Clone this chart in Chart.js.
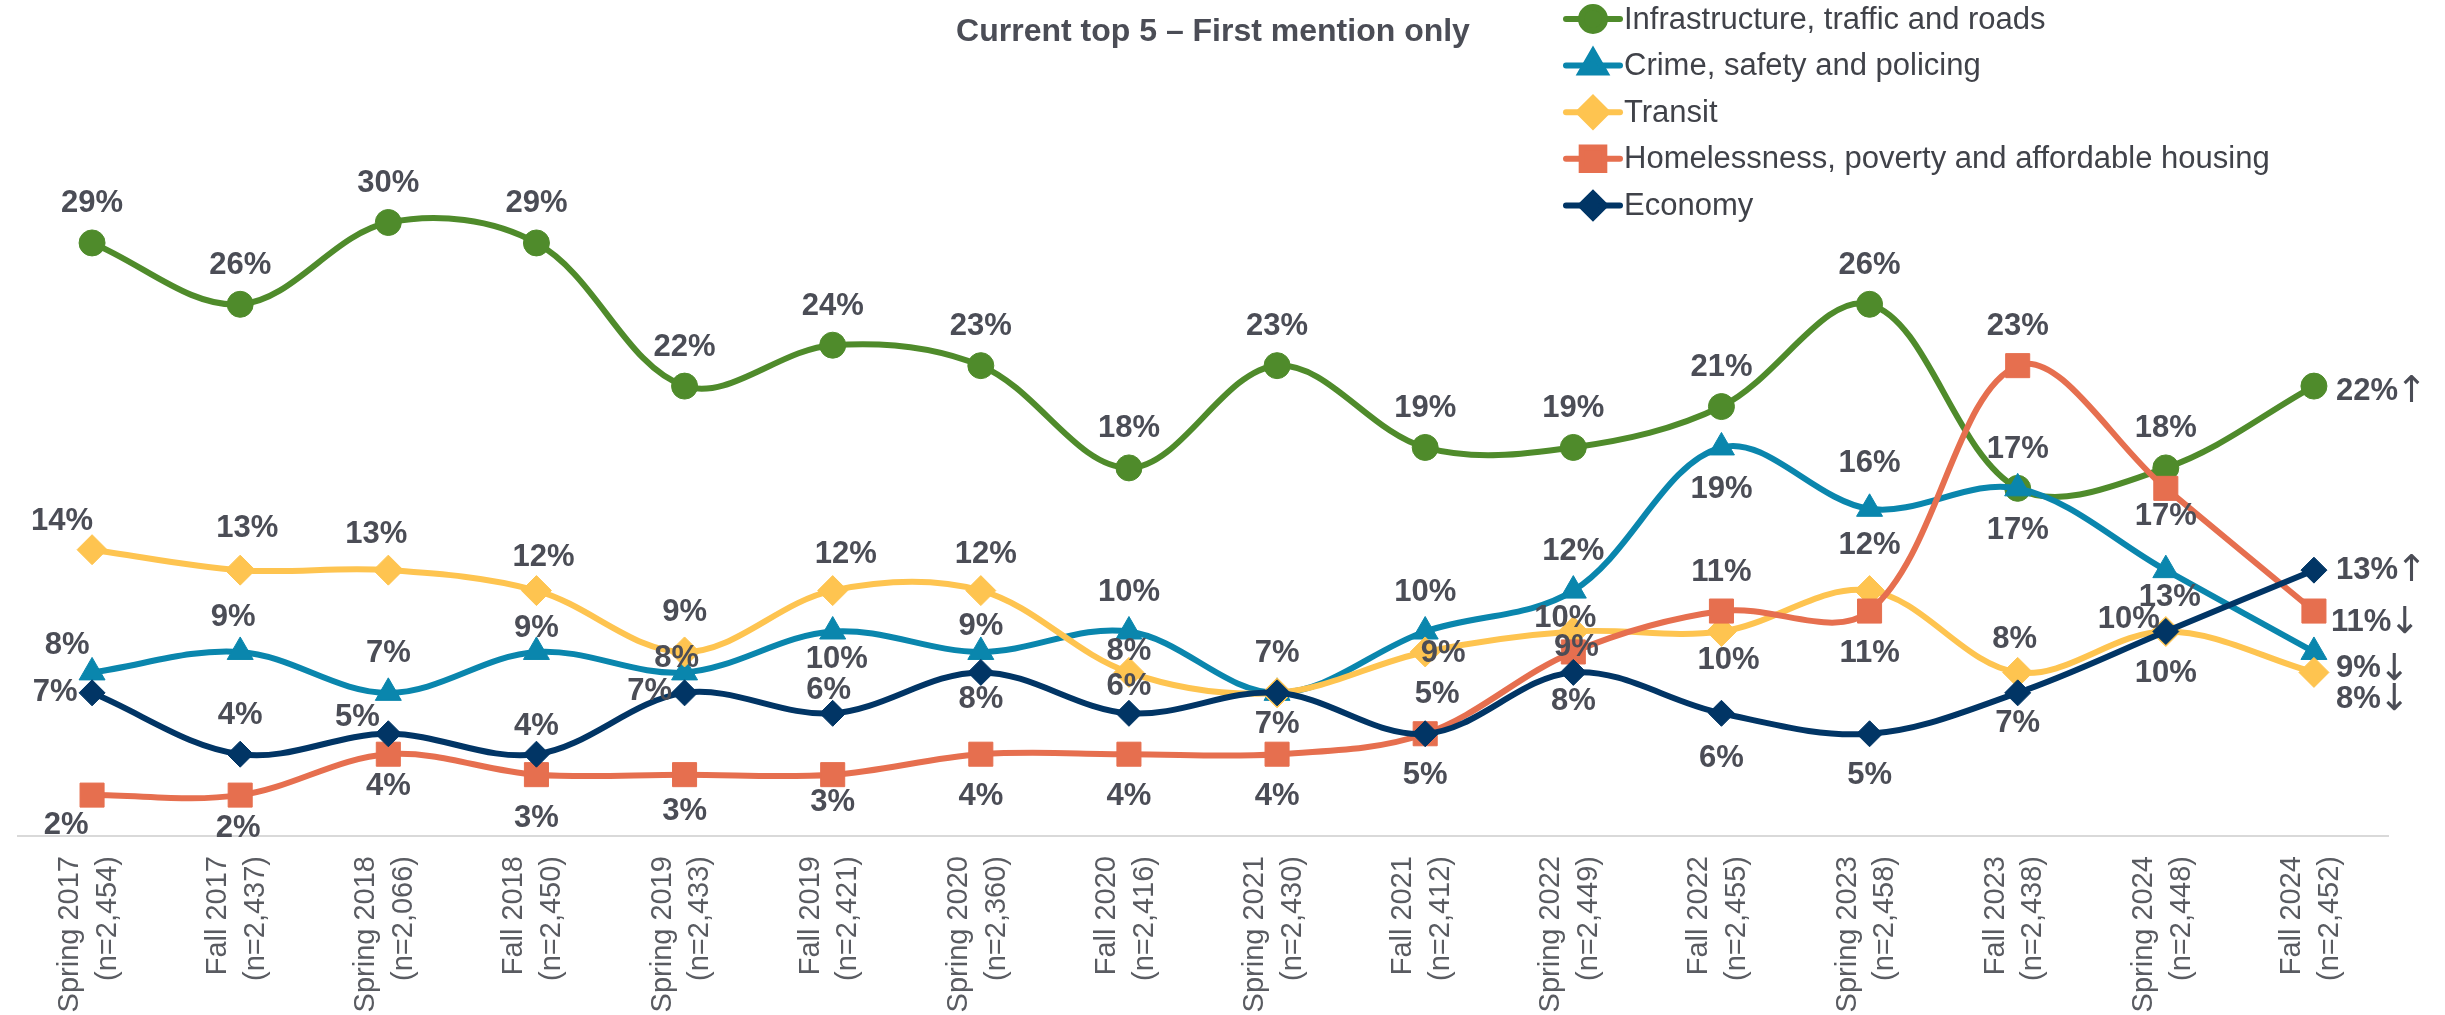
<!DOCTYPE html>
<html>
<head>
<meta charset="utf-8">
<title>Current top 5 – First mention only</title>
<script src="https://cdn.jsdelivr.net/npm/chart.js@4.4.1/dist/chart.umd.min.js"></script>
<style>
  html, body { margin: 0; padding: 0; background: #ffffff; }
  #wrap { width: 2445px; height: 1015px; }
</style>
</head>
<body>
<div id="wrap"><canvas id="issuesChart" width="2445" height="1015"></canvas></div>
<script>
// ============================
// DATA
// ============================
const waves = [
  ["Spring 2017", "(n=2,454)"], ["Fall 2017", "(n=2,437)"],
  ["Spring 2018", "(n=2,066)"], ["Fall 2018", "(n=2,450)"],
  ["Spring 2019", "(n=2,433)"], ["Fall 2019", "(n=2,421)"],
  ["Spring 2020", "(n=2,360)"], ["Fall 2020", "(n=2,416)"],
  ["Spring 2021", "(n=2,430)"], ["Fall 2021", "(n=2,412)"],
  ["Spring 2022", "(n=2,449)"], ["Fall 2022", "(n=2,455)"],
  ["Spring 2023", "(n=2,458)"], ["Fall 2023", "(n=2,438)"],
  ["Spring 2024", "(n=2,448)"], ["Fall 2024", "(n=2,452)"]
];

const infrastructure = [29, 26, 30, 29, 22, 24, 23, 18, 23, 19, 19, 21, 26, 17, 18, 22];
const crime          = [8, 9, 7, 9, 8, 10, 9, 10, 7, 10, 12, 19, 16, 17, 13, 9];
const transit        = [14, 13, 13, 12, 9, 12, 12, 8, 7, 9, 10, 10, 12, 8, 10, 8];
const homelessness   = [2, 2, 4, 3, 3, 3, 4, 4, 4, 5, 9, 11, 11, 23, 17, 11];
const economy        = [7, 4, 5, 4, 7, 6, 8, 6, 7, 5, 8, 6, 5, 7, 10, 13];

const seriesNames = [
  "Infrastructure, traffic and roads",
  "Crime, safety and policing",
  "Transit",
  "Homelessness, poverty and affordable housing",
  "Economy"
];

// change vs. previous wave, shown next to the last value
const changeArrows = ["\u2191", "\u2193", "\u2193", "\u2193", "\u2191"];

// ============================
// STYLE
// ============================
const colors = ["#4f8b2b", "#0a86ad", "#fec450", "#e66f4f", "#013565"];
const markers = ["circle", "triangle", "rectRot", "rect", "rectRot"];
const markerSizes = [13, 15, 15, 17, 13];
const textColor = "#4b4d56";
const fontFamily = "'Liberation Sans', Arial, sans-serif";

// label placement per point: a = above, b = below, l = left, r = right, c = on point, n = none
const labelSpots = [
  "aaaaaaaaaaaaaaar",
  "aaaaabaaaaababbr",
  "aaaaaaaanccbaaar",
  "bbbbbbbbbbcababr",
  "laaalabababbbbbr"
];

// small manual shifts so labels sit where the original put them
const labelNudge = {
  "0-15": [0, 5],
  "1-0": [-25, 12], "1-1": [-7, 5], "1-3": [0, 16], "1-4": [-8, 25], "1-5": [4, -14],
  "1-6": [0, 14], "1-12": [0, -6], "1-14": [4, -15], "1-15": [0, 17],
  "2-0": [-30, 11], "2-1": [7, -3], "2-2": [-12, 3], "2-3": [7, 6], "2-5": [13, 3],
  "2-6": [5, 3], "2-7": [0, 18], "2-9": [18, 2], "2-10": [-8, -13], "2-11": [7, -13],
  "2-12": [0, -6], "2-13": [-3, 6], "2-14": [-37, 27], "2-15": [0, 27],
  "3-0": [-26, -12], "3-1": [-2, -9], "3-2": [0, -10], "3-3": [0, 2], "3-4": [0, -5],
  "3-5": [0, -14], "3-10": [3, -4], "3-14": [0, -14], "3-15": [-5, 11],
  "4-0": [3, 0], "4-2": [-31, 23], "4-3": [0, 11], "4-4": [5, -1], "4-5": [-4, 16],
  "4-6": [0, -15], "4-7": [0, 12], "4-8": [0, -10], "4-9": [12, 0], "4-10": [0, -13],
  "4-11": [0, 3], "4-13": [0, -11]
};

Chart.defaults.font.family = fontFamily;

// ============================
// PLUGINS
// ============================
function drawMarker(ctx, style, radius, color, x, y) {
  ctx.save();
  ctx.fillStyle = color;
  ctx.strokeStyle = color;
  Chart.helpers.drawPoint(ctx, { pointStyle: style, radius: radius, rotation: 0, borderWidth: 1 }, x, y);
  ctx.restore();
}

const titleAndLegend = {
  id: "titleAndLegend",
  afterDraw(chart) {
    const ctx = chart.ctx;
    ctx.save();
    ctx.fillStyle = textColor;
    ctx.font = "bold 32px " + fontFamily;
    ctx.textAlign = "center";
    ctx.textBaseline = "middle";
    ctx.fillText("Current top 5 \u2013 First mention only", 1213, 32);

    ctx.font = "31px " + fontFamily;
    ctx.textAlign = "left";
    seriesNames.forEach((name, i) => {
      const y = 19 + i * 46.6;
      ctx.strokeStyle = colors[i];
      ctx.lineWidth = 6;
      ctx.lineCap = "round";
      ctx.beginPath();
      ctx.moveTo(1566, y);
      ctx.lineTo(1620, y);
      ctx.stroke();
      drawMarker(ctx, markers[i], markerSizes[i] - 1, colors[i], 1593, y);
      ctx.fillStyle = "#404249";
      ctx.fillText(name, 1624, y + 1);
    });
    ctx.restore();
  }
};

const valueLabels = {
  id: "valueLabels",
  afterDatasetsDraw(chart) {
    const ctx = chart.ctx;
    ctx.save();
    ctx.textBaseline = "middle";
    chart.data.datasets.forEach((ds, s) => {
      const meta = chart.getDatasetMeta(s);
      meta.data.forEach((pt, i) => {
        const spot = labelSpots[s][i];
        if (spot === "n") return;
        const nudge = labelNudge[s + "-" + i] || [0, 0];
        let x = pt.x + nudge[0];
        let y = pt.y + nudge[1];
        const text = ds.data[i] + "%";
        ctx.fillStyle = textColor;
        ctx.font = "bold 31px " + fontFamily;
        if (spot === "r") {
          ctx.textAlign = "left";
          x += 22;
          ctx.fillText(text, x, y);
          const w = ctx.measureText(text).width;
          ctx.font = "37px 'DejaVu Sans', sans-serif";
          ctx.fillText(changeArrows[s], x + w - 2, y + 1);
          return;
        }
        if (spot === "a") y -= 39;
        if (spot === "b") y += 42;
        if (spot === "l") x -= 40;
        ctx.textAlign = "center";
        ctx.fillText(text, x, y);
      });
    });
    ctx.restore();
  }
};

// ============================
// CHART
// ============================
const seriesValues = [infrastructure, crime, transit, homelessness, economy];

const datasets = seriesValues.map((values, i) => ({
  label: seriesNames[i],
  data: values,
  borderColor: colors[i],
  backgroundColor: colors[i],
  borderWidth: 6,
  pointStyle: markers[i],
  pointRadius: markerSizes[i],
  pointBorderWidth: 1,
  pointBorderColor: colors[i],
  pointBackgroundColor: colors[i],
  tension: 0.35,
  fill: false,
  order: 5 - i
}));

new Chart(document.getElementById("issuesChart"), {
  type: "line",
  data: { labels: waves, datasets: datasets },
  options: {
    responsive: false,
    devicePixelRatio: 1,
    animation: false,
    events: [],
    layout: { padding: { left: 8, right: 57, top: 9, bottom: 0 } },
    plugins: {
      legend: { display: false },
      title: { display: false },
      tooltip: { enabled: false }
    },
    scales: {
      y: {
        display: false,
        min: 0,
        max: 40
      },
      x: {
        offset: true,
        grid: { display: false, drawTicks: false },
        border: { display: true, color: "#d9d9d9", width: 2 },
        ticks: {
          autoSkip: false,
          minRotation: 90,
          maxRotation: 90,
          padding: 20,
          labelOffset: -22,
          color: "#595b61",
          font: { size: 29, lineHeight: 1.3 }
        },
        afterFit(scale) {
          scale.height = 179;
        }
      }
    }
  },
  plugins: [valueLabels, titleAndLegend]
});
</script>
</body>
</html>
